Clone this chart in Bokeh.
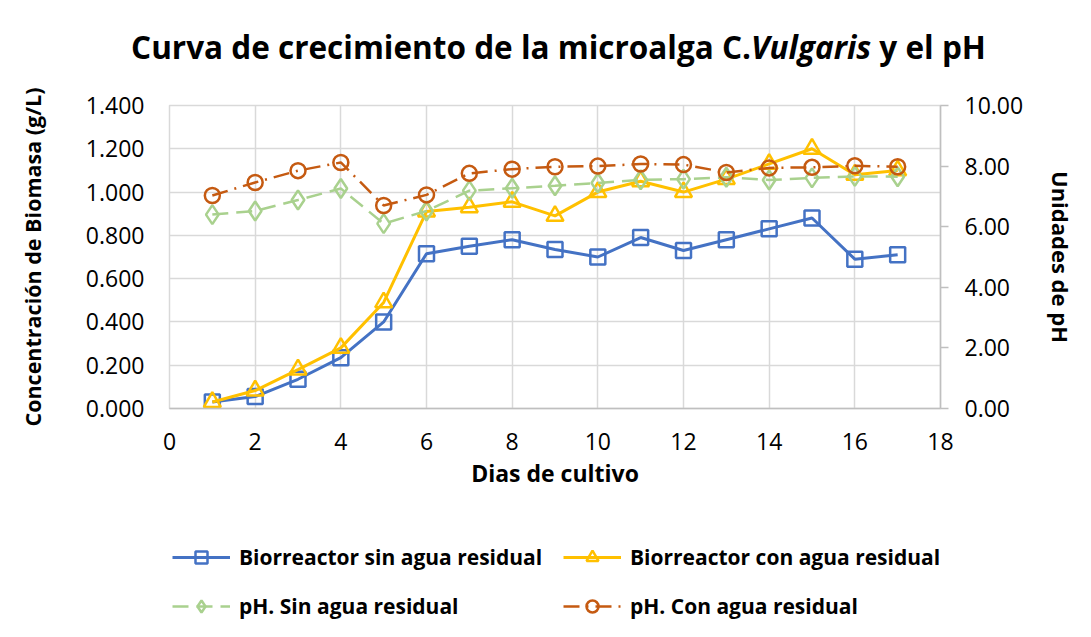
from bokeh.plotting import figure
from bokeh.layouts import column
from bokeh.models import (Range1d, LinearAxis, FixedTicker, NumeralTickFormatter,
                          Legend, LegendItem, ColumnDataSource, Div)
from bokeh.embed import file_html
from bokeh.resources import INLINE

# ---- data ----
dias = list(range(1, 18))
biomasa_sin = [0.030, 0.055, 0.135, 0.235, 0.400, 0.715, 0.750, 0.780, 0.735, 0.700,
               0.790, 0.730, 0.780, 0.830, 0.880, 0.690, 0.710]
biomasa_con = [0.030, 0.083, 0.180, 0.280, 0.490, 0.910, 0.930, 0.955, 0.890, 1.000,
               1.050, 1.000, 1.060, 1.130, 1.200, 1.080, 1.100]
ph_sin = [6.40, 6.52, 6.88, 7.26, 6.10, 6.52, 7.19, 7.27, 7.35, 7.44,
          7.55, 7.57, 7.63, 7.54, 7.61, 7.66, 7.65]
ph_con = [7.03, 7.46, 7.85, 8.12, 6.70, 7.05, 7.76, 7.90, 7.98, 8.00,
          8.07, 8.05, 7.79, 7.94, 7.96, 8.01, 7.98]

x_ticks = [0, 2, 4, 6, 8, 10, 12, 14, 16, 18]
y_ticks = [0.0, 0.2, 0.4, 0.6, 0.8, 1.0, 1.2, 1.4]
y2_ticks = [0, 2, 4, 6, 8, 10]

labels = ["Biorreactor sin agua residual", "Biorreactor con agua residual",
          "pH. Sin agua residual", "pH. Con agua residual"]
title_parts = ["Curva de crecimiento de la microalga C.", "Vulgaris", " y el pH"]
x_label = "Dias de cultivo"
y_label = "Concentración de Biomasa (g/L)"
y2_label = "Unidades de pH"

FONT = "Open Sans"
BLUE, YELLOW, GREEN, ORANGE = "#4472C4", "#FFC000", "#A9D18E", "#C55A11"
GRID = "#d9d9d9"
W = 1083
TH = 70

# ---- title (mixed bold / bold-italic) ----
title = Div(text=f"{title_parts[0]}<i>{title_parts[1]}</i>{title_parts[2]}",
            width=W, height=TH,
            styles={"font-family": FONT, "font-size": "31.5px", "font-weight": "bold",
                    "color": "#000000", "text-align": "center", "padding-left": "24px",
                    "padding-top": "26px", "line-height": "32px",
                    "box-sizing": "border-box", "white-space": "nowrap"})

# ---- main chart ----
src = ColumnDataSource(dict(x=dias, b1=biomasa_sin, b2=biomasa_con, p1=ph_sin, p2=ph_con))

p = figure(frame_width=771, frame_height=303, output_backend="svg", toolbar_location=None,
           x_range=Range1d(0, 18), y_range=Range1d(0, 1.4),
           min_border_left=169, min_border_right=143, min_border_top=25,
           min_border_bottom=100)
p.extra_y_ranges = {"ph": Range1d(0, 10)}
p.outline_line_color = GRID
p.outline_line_width = 1.5
p.background_fill_color = "white"
p.border_fill_color = "white"

p.xaxis.ticker = FixedTicker(ticks=x_ticks)
p.yaxis.ticker = FixedTicker(ticks=y_ticks)
p.yaxis.formatter = NumeralTickFormatter(format="0.000")
for ax in p.xaxis + p.yaxis:
    ax.major_label_text_font = FONT
    ax.major_label_text_font_size = "23px"
    ax.major_label_text_color = "#000000"
    ax.axis_label_text_font = FONT
    ax.axis_label_text_font_style = "bold"
    ax.axis_label_text_color = "#000000"
    ax.major_tick_line_color = None
    ax.minor_tick_line_color = None
p.xaxis.axis_label_text_font_size = "23px"
p.yaxis.axis_label_text_font_size = "21.5px"
p.xaxis.axis_line_color = "#bfbfbf"
p.xaxis.axis_line_width = 1.5
p.yaxis.axis_line_color = None
p.xaxis.axis_label = x_label
p.yaxis.axis_label = y_label
p.xaxis.major_label_standoff = 18
p.xaxis.axis_label_standoff = 4
p.yaxis.major_label_standoff = 19
p.yaxis.axis_label_standoff = 36

ax2 = LinearAxis(y_range_name="ph", ticker=FixedTicker(ticks=y2_ticks),
                 formatter=NumeralTickFormatter(format="0.00"), axis_label=y2_label)
ax2.axis_line_color = "#bfbfbf"
ax2.axis_line_width = 1.5
ax2.major_tick_line_color = "#bfbfbf"
ax2.major_tick_line_width = 1.5
ax2.major_tick_out = 8
ax2.major_tick_in = 0
ax2.minor_tick_line_color = None
ax2.major_label_text_font = FONT
ax2.major_label_text_font_size = "23px"
ax2.major_label_text_color = "#000000"
ax2.major_label_standoff = 16
ax2.axis_label_text_font = FONT
ax2.axis_label_text_font_size = "22px"
ax2.axis_label_text_font_style = "bold"
ax2.axis_label_text_color = "#000000"
ax2.axis_label_standoff = 20
p.add_layout(ax2, "right")

p.xgrid.ticker = FixedTicker(ticks=x_ticks)
p.ygrid.ticker = FixedTicker(ticks=y_ticks)
for g in (p.xgrid, p.ygrid):
    g.grid_line_color = GRID
    g.grid_line_width = 1.5

STY = {
    "b1": dict(line=dict(line_color=BLUE, line_width=3),
               mk=dict(marker="square", size=15, line_color=BLUE)),
    "b2": dict(line=dict(line_color=YELLOW, line_width=3),
               mk=dict(marker="triangle", size=17, line_color=YELLOW)),
    "p1": dict(line=dict(line_color=GREEN, line_width=2.5, line_dash="16 8"),
               mk=dict(marker="diamond", size=19, line_color=GREEN)),
    "p2": dict(line=dict(line_color=ORANGE, line_width=2.5, line_dash="16 7 2 7"),
               mk=dict(marker="circle", size=15, line_color=ORANGE)),
}
RANGE = {"b1": "default", "b2": "default", "p1": "ph", "p2": "ph"}


def draw(fig, key):
    ln = fig.line("x", key, source=src, y_range_name=RANGE[key], **STY[key]["line"])
    mk = fig.scatter("x", key, source=src, y_range_name=RANGE[key], fill_color=None,
                     line_width=2.5, **STY[key]["mk"])
    return ln, mk


for k in ("b1", "b2", "p1", "p2"):
    draw(p, k)

# ---- legend strip (legend keys reuse the same series styles) ----
lf = figure(width=W, height=128, output_backend="svg", toolbar_location=None,
            x_range=Range1d(0, 18), y_range=Range1d(100, 101),
            x_axis_location=None, y_axis_location=None,
            min_border_left=169, min_border_right=143, min_border_top=0,
            min_border_bottom=0)
lf.extra_y_ranges = {"ph": Range1d(100, 101)}
lf.grid.visible = False
lf.outline_line_color = None
lf.background_fill_color = "white"
lf.border_fill_color = "white"
keys = {k: draw(lf, k) for k in ("b1", "b2", "p1", "p2")}


def make_legend(items, loc):
    lg = Legend(items=items, location=loc, orientation="horizontal")
    lg.label_text_font = FONT
    lg.label_text_font_size = "21px"
    lg.label_text_font_style = "bold"
    lg.label_text_color = "#000000"
    lg.glyph_width = 58
    lg.glyph_height = 30
    lg.label_height = 30
    lg.label_width = 310
    lg.label_standoff = 9
    lg.spacing = 14
    lg.padding = 0
    lg.margin = 0
    lg.border_line_color = None
    lg.background_fill_alpha = 0
    return lg


leg_a = make_legend([LegendItem(label=labels[0], renderers=list(keys["b1"])),
                     LegendItem(label=labels[1], renderers=list(keys["b2"]))], (3, 64))
leg_b = make_legend([LegendItem(label=labels[2], renderers=list(keys["p1"])),
                     LegendItem(label=labels[3], renderers=list(keys["p2"]))], (3, 15))
lf.add_layout(leg_a, "center")
lf.add_layout(leg_b, "center")

open("out.html", "w").write(file_html(column(title, p, lf, spacing=0), INLINE))
